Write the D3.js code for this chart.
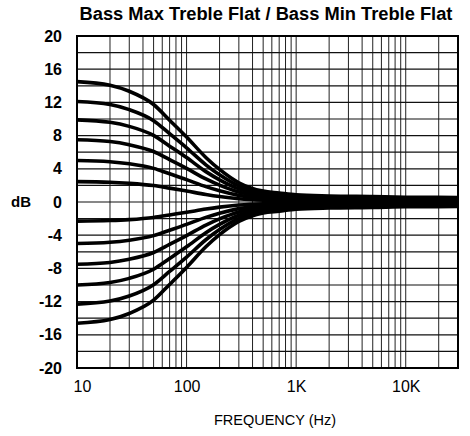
<!DOCTYPE html>
<html>
<head>
<meta charset="utf-8">
<script src="https://cdn.jsdelivr.net/npm/d3@7"></script>
<style>
  html, body { margin: 0; padding: 0; background: #fff; }
</style>
</head>
<body>
<div id="chart"></div>
<script>
// Bass shelving response curves.
const freqs = [10, 20, 30, 50, 70, 100, 150, 200, 300, 500, 700, 1000, 2000, 5000, 10000, 30000];

const boostMax  = [14.5, 14.07, 13.34, 11.75, 9.86, 7.83, 5.37, 3.92, 2.32, 1.31, 1.09, 0.87, 0.73, 0.65, 0.58, 0.55];
const boost5    = [12.1, 11.74, 11.13, 9.8, 8.23, 6.53, 4.48, 3.27, 1.94, 1.09, 0.91, 0.73, 0.61, 0.54, 0.48, 0.46];
const boost4    = [9.9, 9.6, 9.11, 8.02, 6.73, 5.35, 3.66, 2.67, 1.58, 0.89, 0.74, 0.59, 0.5, 0.45, 0.4, 0.38];
const boost3    = [7.5, 7.28, 6.9, 6.08, 5.1, 4.05, 2.78, 2.03, 1.2, 0.68, 0.56, 0.45, 0.38, 0.34, 0.3, 0.29];
const boost2    = [5.0, 4.85, 4.6, 4.05, 3.4, 2.7, 1.85, 1.35, 0.8, 0.45, 0.38, 0.3, 0.25, 0.23, 0.2, 0.19];
const boost1    = [2.45, 2.38, 2.25, 1.98, 1.67, 1.32, 0.91, 0.66, 0.39, 0.22, 0.18, 0.15, 0.12, 0.11, 0.1, 0.09];
const cut1      = [-2.3, -2.23, -2.12, -1.86, -1.56, -1.24, -0.85, -0.62, -0.37, -0.21, -0.17, -0.14, -0.12, -0.1, -0.09, -0.09];
const cut2      = [-5.0, -4.85, -4.6, -4.05, -3.4, -2.7, -1.85, -1.35, -0.8, -0.45, -0.38, -0.3, -0.25, -0.23, -0.2, -0.19];
const cut3      = [-7.5, -7.28, -6.9, -6.08, -5.1, -4.05, -2.78, -2.03, -1.2, -0.68, -0.56, -0.45, -0.38, -0.34, -0.3, -0.29];
const cut4      = [-10, -9.7, -9.2, -8.1, -6.8, -5.4, -3.7, -2.7, -1.6, -0.9, -0.75, -0.6, -0.5, -0.45, -0.4, -0.38];
const cut5      = [-12.3, -11.93, -11.32, -9.96, -8.36, -6.64, -4.55, -3.32, -1.97, -1.11, -0.92, -0.74, -0.62, -0.55, -0.49, -0.47];
const cutMax    = [-14.6, -14.16, -13.43, -11.83, -9.93, -7.88, -5.4, -3.94, -2.34, -1.31, -1.1, -0.88, -0.73, -0.66, -0.58, -0.55];

const series = [boostMax, boost5, boost4, boost3, boost2, boost1, cut1, cut2, cut3, cut4, cut5, cutMax];

const yTicks = [-20, -16, -12, -8, -4, 0, 4, 8, 12, 16, 20];
const xTicks = [10, 100, 1000, 10000];
const xTickLabels = ["10", "100", "1K", "10K"];

const W = 470, H = 436;
const margin = { left: 77, right: 12, top: 36, bottom: 68 };
const narrow = "'Liberation Sans Narrow', 'Liberation Sans', Arial, sans-serif";

const svg = d3.select("#chart").append("svg")
  .attr("width", W)
  .attr("height", H);

const x = d3.scaleLog()
  .domain([10, 30000])
  .range([margin.left, W - margin.right]);

const y = d3.scaleLinear()
  .domain([-20, 20])
  .range([H - margin.bottom, margin.top]);

// grid
const grid = svg.append("g");

grid.selectAll("line.v")
  .data(x.ticks())
  .join("line")
  .attr("x1", d => x(d)).attr("x2", d => x(d))
  .attr("y1", y(20)).attr("y2", y(-20))
  .attr("stroke", "#222")
  .attr("stroke-width", 1);

grid.selectAll("line.h")
  .data(d3.range(-20, 21, 2))
  .join("line")
  .attr("x1", x(10)).attr("x2", x(30000))
  .attr("y1", d => y(d)).attr("y2", d => y(d))
  .attr("stroke", "#111")
  .attr("stroke-width", 1.2);

// frame
svg.append("rect")
  .attr("x", x(10))
  .attr("y", y(20))
  .attr("width", x(30000) - x(10))
  .attr("height", y(-20) - y(20))
  .attr("fill", "none")
  .attr("stroke", "#000")
  .attr("stroke-width", 2);

// curves
const line = d3.line()
  .x((d, i) => x(freqs[i]))
  .y(d => y(d))
  .curve(d3.curveMonotoneX);

svg.append("g")
  .selectAll("path")
  .data(series)
  .join("path")
  .attr("d", line)
  .attr("fill", "none")
  .attr("stroke", "#000")
  .attr("stroke-width", 3.6);

// y axis
const yAxis = svg.append("g")
  .attr("transform", `translate(${x(10) - 15},0)`)
  .call(d3.axisLeft(y).tickValues(yTicks).tickSize(0).tickPadding(0)
    .tickFormat(d => String(d)));
yAxis.select(".domain").remove();
yAxis.selectAll("text")
  .attr("font-family", narrow)
  .attr("font-size", 16)
  .attr("font-weight", "bold")
  .attr("fill", "#000");

// x axis
const xAxis = svg.append("g")
  .attr("transform", `translate(0,${y(-20) + 13})`)
  .call(d3.axisBottom(x).tickValues(xTicks).tickSize(0).tickPadding(0)
    .tickFormat((d, i) => xTickLabels[i]));
xAxis.select(".domain").remove();
xAxis.selectAll("text")
  .attr("font-family", narrow)
  .attr("font-size", 16)
  .attr("fill", "#000")
  .attr("dx", (d, i) => i === 0 ? 5 : 0);

// labels
svg.append("text")
  .attr("x", 21)
  .attr("y", y(0))
  .attr("dy", "0.35em")
  .attr("text-anchor", "middle")
  .attr("font-family", narrow)
  .attr("font-size", 15)
  .attr("font-weight", "bold")
  .attr("fill", "#000")
  .text("dB");

svg.append("text")
  .attr("x", 275)
  .attr("y", 425)
  .attr("text-anchor", "middle")
  .attr("font-family", narrow)
  .attr("font-size", 14.5)
  .attr("fill", "#000")
  .text("FREQUENCY (Hz)");

svg.append("text")
  .attr("x", 266)
  .attr("y", 20)
  .attr("text-anchor", "middle")
  .attr("font-family", "'Liberation Sans', Arial, sans-serif")
  .attr("font-size", 18.3)
  .attr("font-weight", "bold")
  .attr("fill", "#000")
  .text("Bass Max Treble Flat / Bass Min Treble Flat");
</script>
</body>
</html>
